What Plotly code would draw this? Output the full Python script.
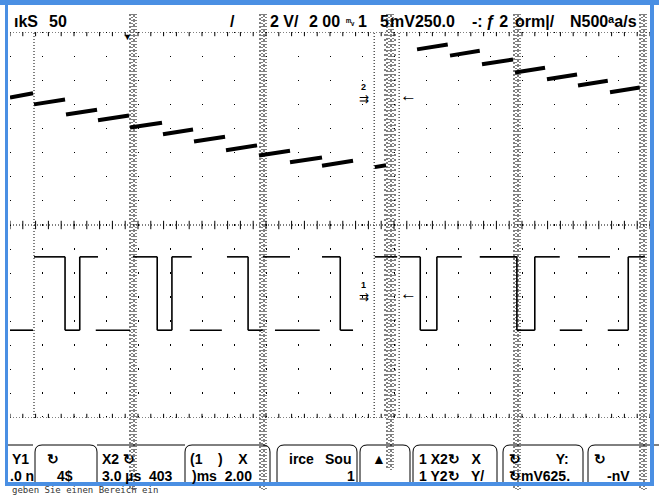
import plotly.graph_objects as go

# ---------------- data (screen divisions: x 0..10, y -4..4) ----------------
# channel 2 staircase: each step (start time, end time, level at start, level at end)
stair_t0 = [0.00, 0.375, 0.875, 1.375, 1.875, 2.39, 2.875, 3.375, 3.89, 4.375, 4.875, 5.70,
            6.36, 6.875, 7.375, 7.89, 8.39, 8.875, 9.375]
stair_t1 = [0.36, 0.86, 1.36, 1.86, 2.375, 2.86, 3.36, 3.86, 4.375, 4.875, 5.36, 5.875,
            6.84, 7.34, 7.86, 8.36, 8.86, 9.34, 9.84]
stair_v0 = [2.64, 2.50, 2.29, 2.17, 2.02, 1.88, 1.73, 1.55, 1.44, 1.30, 1.23, 1.20,
            3.64, 3.51, 3.33, 3.16, 3.02, 2.89, 2.75]
stair_v1 = [2.73, 2.60, 2.39, 2.27, 2.12, 1.98, 1.83, 1.65, 1.54, 1.40, 1.33, 1.24,
            3.74, 3.61, 3.43, 3.26, 3.12, 2.99, 2.85]

# channel 1 square wave, drawn as visible fragments
sq_high = -0.66
sq_low = -2.18
high_t0 = [0.375, 1.09, 1.92, 2.53, 3.39, 3.95, 4.875, 5.70, 6.09, 6.67, 7.34, 8.20, 8.875, 9.66]
high_t1 = [0.86, 1.375, 2.30, 2.84, 3.72, 4.375, 5.16, 6.05, 6.41, 7.06, 7.92, 8.59, 9.375, 9.92]
low_t0 = [0.00, 0.86, 1.34, 2.30, 2.81, 3.72, 4.14, 5.16, 6.41, 7.92, 8.59, 9.34]
low_t1 = [0.36, 1.09, 1.875, 2.53, 3.31, 3.95, 4.84, 5.36, 6.67, 8.20, 8.94, 9.66]
edge_t = [0.86, 1.09, 2.30, 2.53, 3.72, 5.16, 6.41, 6.67, 7.92, 8.20, 9.66]

header_texts = ["ıkS", "50", "/", "2 V/", "2 00", "ᵐᵥ", "1", "5", "mV250.0", "-:", "ƒ 2",
                "orm|/", "N500ᵃa/s"]
key_row1 = ["Y1", "↻", "X2 ↻", "(1    )    X", "irce", "Sou", "▲", "1 X2↻   X", "↻         Y:", "↻"]
key_row2 = [".0 n", "4$", "3.0 µs  403", ")ms  2.00", "1", "1 Y2↻   Y/", "↻mV625.", "-nV"]
status_text = "geben Sie einen Bereich ein"

# ---------------- geometry helpers ----------------
W, H = 659, 496
L, R, T, B = 10, 650, 32, 418


def PX(px):
    return (px - L) / (R - L)


def PY(py):
    return (B - py) / (B - T)


def segs(t0, t1, v0, v1):
    xs, ys = [], []
    for a, b, c, d in zip(t0, t1, v0, v1):
        xs += [a, b, None]
        ys += [c, d, None]
    return xs, ys


fig = go.Figure()

# ticks along top, centre and bottom graticule lines
tick_x = [i * 0.2 for i in range(51)]
for yy in (4, 0, -4):
    fig.add_trace(go.Scatter(x=tick_x, y=[yy] * len(tick_x), mode="markers",
                             marker=dict(symbol="line-ns-open", size=6, color="black",
                                         line=dict(width=1, color="black")),
                             hoverinfo="skip", showlegend=False))

sx, sy = segs(stair_t0, stair_t1, stair_v0, stair_v1)
fig.add_trace(go.Scatter(x=sx, y=sy, mode="lines", line=dict(color="black", width=4),
                         showlegend=False, connectgaps=False))

hx, hy = segs(high_t0, high_t1, [sq_high] * len(high_t0), [sq_high] * len(high_t0))
lx, ly = segs(low_t0, low_t1, [sq_low] * len(low_t0), [sq_low] * len(low_t0))
ex, ey = segs(edge_t, edge_t, [sq_high] * len(edge_t), [sq_low] * len(edge_t))
fig.add_trace(go.Scatter(x=hx + lx + ex, y=hy + ly + ey, mode="lines",
                         line=dict(color="black", width=1.6), showlegend=False))

shapes = []
# dotted graticule lines
for yy in (4, 0, -4):
    shapes.append(dict(type="line", xref="x", yref="y", x0=0, x1=10, y0=yy, y1=yy,
                       line=dict(color="black", width=1, dash="1px,2px")))
for xx in (0.375, 5.69, 6.08):
    shapes.append(dict(type="line", xref="x", yref="y", x0=xx, x1=xx, y0=-4, y1=4,
                       line=dict(color="black", width=1, dash="1px,2px")))

# noisy dotted bands
for bx, top, bot in ((133, 14, 490), (263, 14, 490), (390, 14, 470), (517, 14, 490), (643, 14, 490)):
    for off, dash in ((-3, "2px,2px"), (-1, "1px,2px"), (1, "3px,2px"), (3, "1px,2px")):
        shapes.append(dict(type="line", xref="paper", yref="paper",
                           x0=PX(bx + off), x1=PX(bx + off), y0=PY(top), y1=PY(bot),
                           line=dict(color="black", width=1, dash=dash)))
for off in (-5, 5):
    shapes.append(dict(type="line", xref="paper", yref="paper",
                       x0=PX(390 + off), x1=PX(390 + off), y0=PY(34), y1=PY(418),
                       line=dict(color="black", width=1, dash="2px,3px")))

# softkey boxes
def box(x0, x1, top=445, bot=484, r=7):
    p = (f"M {PX(x0)},{PY(bot)} L {PX(x0)},{PY(top + r)} Q {PX(x0)},{PY(top)} {PX(x0 + r)},{PY(top)} "
         f"L {PX(x1 - r)},{PY(top)} Q {PX(x1)},{PY(top)} {PX(x1)},{PY(top + r)} L {PX(x1)},{PY(bot)}")
    return dict(type="path", xref="paper", yref="paper", path=p,
                line=dict(color="black", width=1))


for a, b in ((35, 97), (185, 270), (277, 357), (360, 410), (413, 497), (503, 583), (588, 666)):
    shapes.append(box(a, b))
shapes.append(dict(type="line", xref="paper", yref="paper", x0=PX(8), x1=PX(33),
                   y0=PY(445), y1=PY(445), line=dict(color="black", width=1)))
shapes.append(dict(type="line", xref="paper", yref="paper", x0=PX(97), x1=PX(185),
                   y0=PY(445), y1=PY(445), line=dict(color="black", width=1)))

# window frame (blue)
blue = "#4a8fe3"
for x0, x1, y0, y1 in ((0, 659, 0, 5), (5, 8, 0, 486), (650, 654, 0, 486), (5, 654, 482, 486)):
    shapes.append(dict(type="rect", xref="paper", yref="paper", x0=PX(x0), x1=PX(x1),
                       y0=PY(y1), y1=PY(y0), fillcolor=blue, line=dict(width=0), layer="above"))

ann = []


def txt(px, py, s, size=15, bold=True, color="black", anchor="left", family="Liberation Sans"):
    ann.append(dict(xref="paper", yref="paper", x=PX(px), y=PY(py), text=(f"<b>{s}</b>" if bold else s),
                    showarrow=False, xanchor=anchor, yanchor="middle",
                    font=dict(family=family, size=size, color=color)))


hdr_x = [12, 47, 228, 268, 307, 344, 356, 378, 388, 470, 484, 513, 568]
for x, s in zip(hdr_x, header_texts):
    txt(x, 22, s, size=(9 if s == "ᵐᵥ" else 16))

r1_x = [10, 45, 100, 188, 287, 323, 370, 417, 507, 592]
for x, s in zip(r1_x, key_row1):
    txt(x, 459, s, size=14)
r2_x = [8, 55, 100, 190, 345, 417, 507, 605]
for x, s in zip(r2_x, key_row2):
    txt(x, 476, s, size=14)

txt(10, 490, status_text, size=9, bold=False, family="DejaVu Sans Mono", color="#333")

# channel markers
txt(359, 87, "2", size=9)
txt(357, 99, "⇉", size=12, bold=False)
txt(398, 95, "←", size=17, bold=False)
txt(359, 285, "1", size=9)
txt(357, 297, "⇉", size=12, bold=False)
txt(398, 293, "←", size=17, bold=False)
txt(121, 37, "▼", size=9, bold=False)

fig.update_layout(
    width=W, height=H,
    margin=dict(l=L, r=W - R, t=T, b=H - B, pad=0),
    paper_bgcolor="white", plot_bgcolor="white",
    shapes=shapes, annotations=ann, showlegend=False,
    xaxis=dict(range=[0, 10], dtick=0.5, showgrid=True, gridcolor="black", griddash="1px,23px",
               gridwidth=1, zeroline=False, showticklabels=False, ticks="", showline=False, fixedrange=True),
    yaxis=dict(range=[-4, 4], dtick=0.5, showgrid=True, gridcolor="black", griddash="1px,31px",
               gridwidth=1, zeroline=False, showticklabels=False, ticks="", showline=False, fixedrange=True),
)

fig.write_html("out.html", config={"displayModeBar": False},
               post_script="document.body.style.margin='0';document.body.style.overflow='hidden';")
